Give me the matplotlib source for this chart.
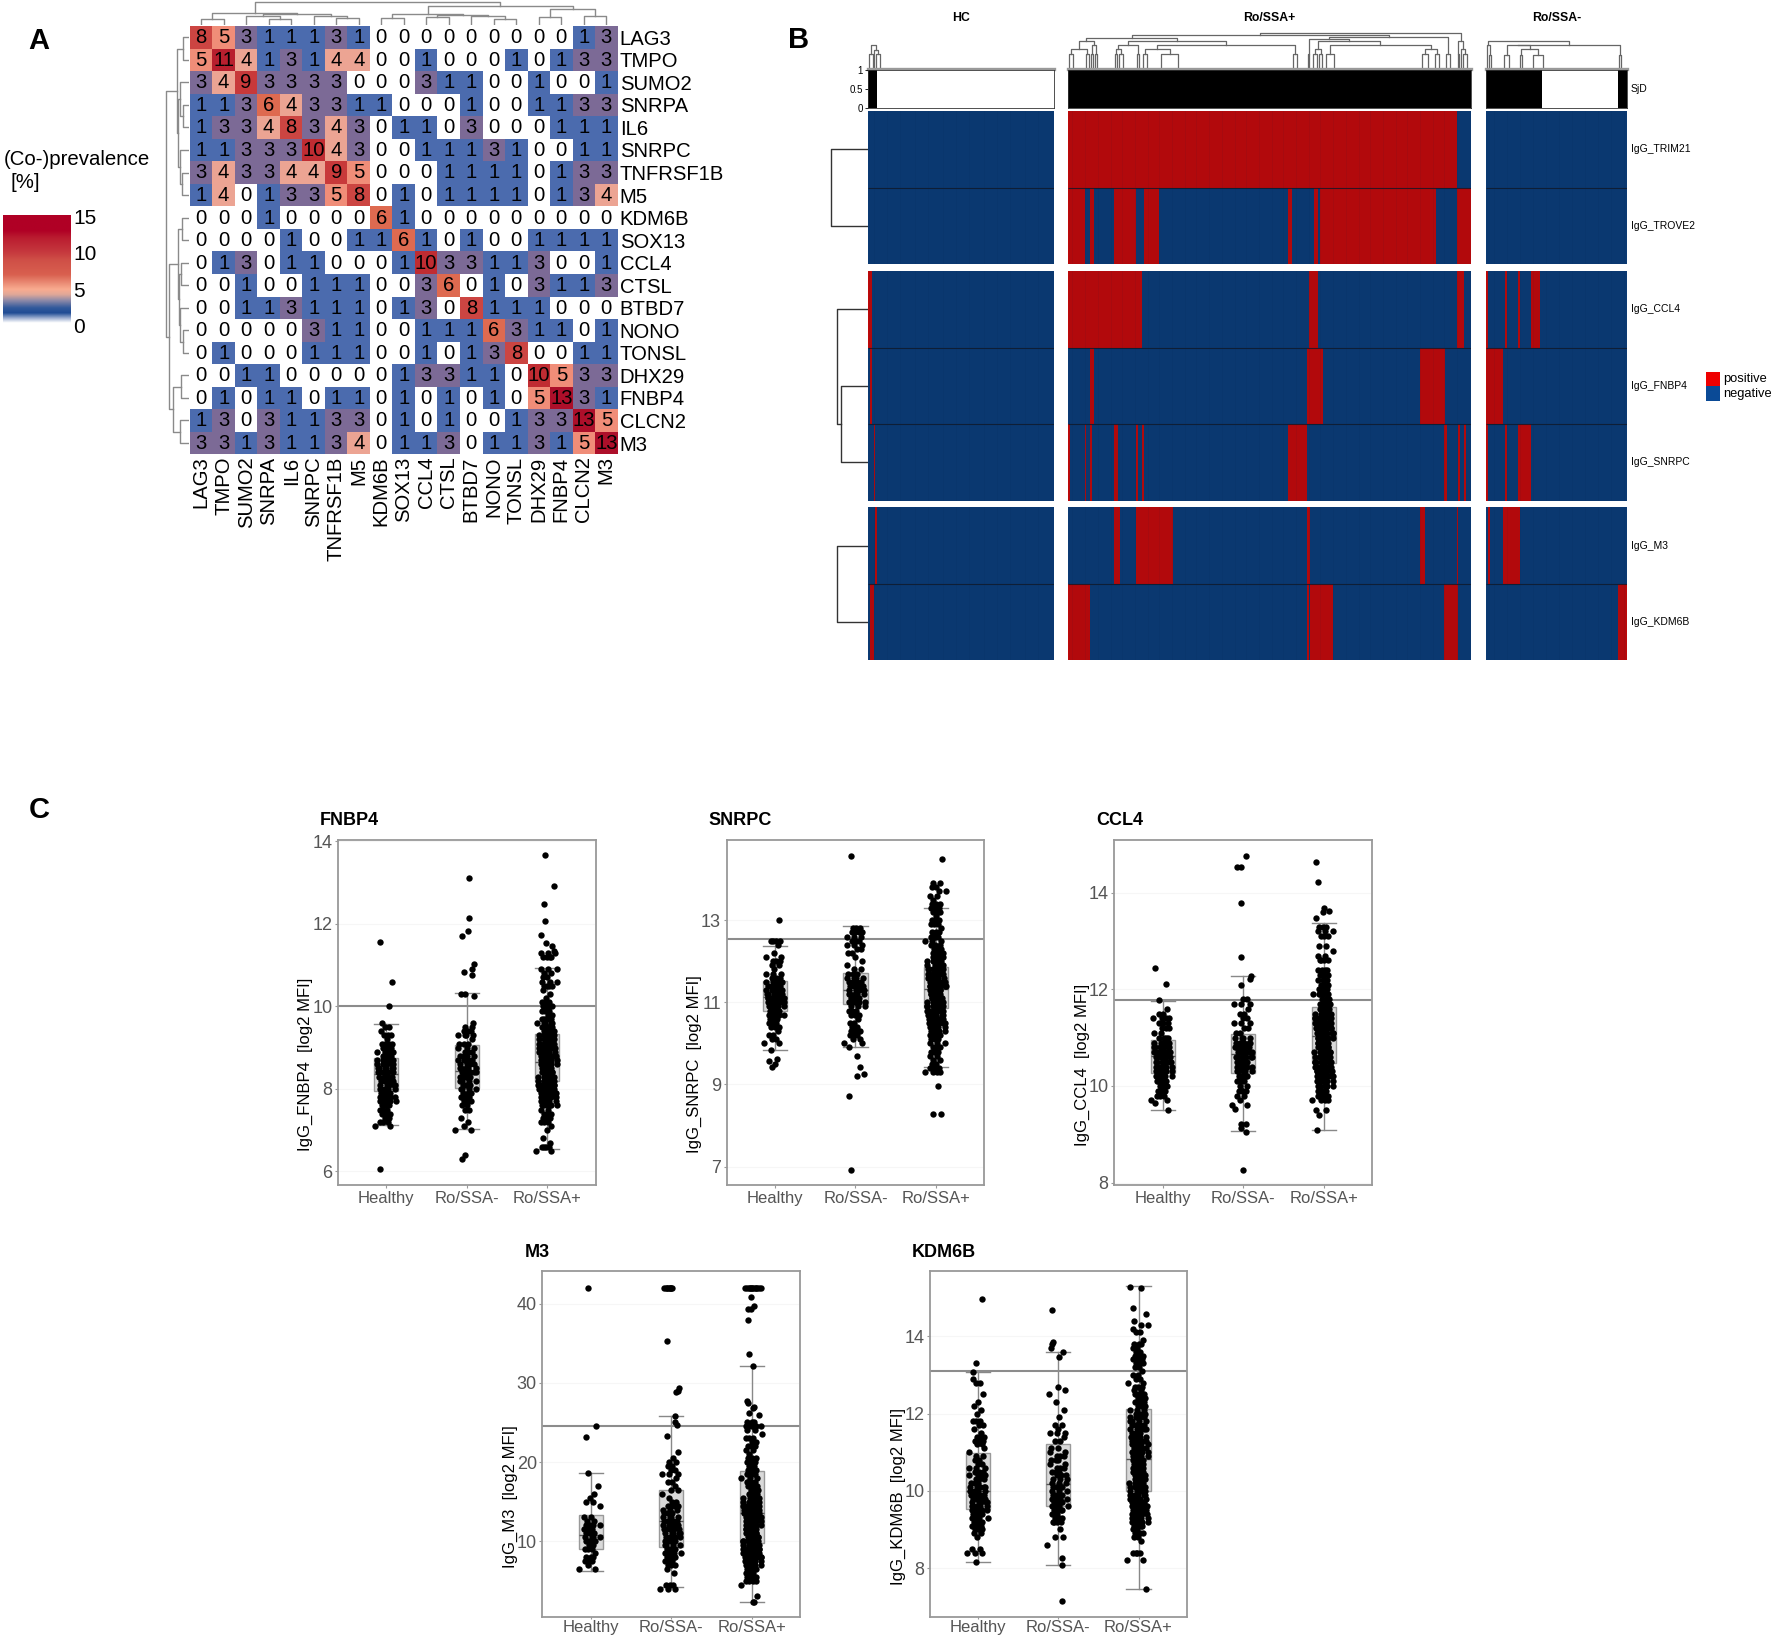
import numpy as np
import matplotlib
matplotlib.use('Agg')
import matplotlib.pyplot as plt
from matplotlib.colors import LinearSegmentedColormap, ListedColormap, Normalize
from matplotlib.patches import Rectangle

plt.rcParams['font.family'] = ['Liberation Sans', 'DejaVu Sans']

# ── Panel A data ────────────────────────────────────────────────
genes = ["LAG3", "TMPO", "SUMO2", "SNRPA", "IL6", "SNRPC", "TNFRSF1B", "M5", "KDM6B", "SOX13",
         "CCL4", "CTSL", "BTBD7", "NONO", "TONSL", "DHX29", "FNBP4", "CLCN2", "M3"]
coprev = [
    [8, 5, 3, 1, 1, 1, 3, 1, 0, 0, 0, 0, 0, 0, 0, 0, 0, 1, 3],
    [5, 11, 4, 1, 3, 1, 4, 4, 0, 0, 1, 0, 0, 0, 1, 0, 1, 3, 3],
    [3, 4, 9, 3, 3, 3, 3, 0, 0, 0, 3, 1, 1, 0, 0, 1, 0, 0, 1],
    [1, 1, 3, 6, 4, 3, 3, 1, 1, 0, 0, 0, 1, 0, 0, 1, 1, 3, 3],
    [1, 3, 3, 4, 8, 3, 4, 3, 0, 1, 1, 0, 3, 0, 0, 0, 1, 1, 1],
    [1, 1, 3, 3, 3, 10, 4, 3, 0, 0, 1, 1, 1, 3, 1, 0, 0, 1, 1],
    [3, 4, 3, 3, 4, 4, 9, 5, 0, 0, 0, 1, 1, 1, 1, 0, 1, 3, 3],
    [1, 4, 0, 1, 3, 3, 5, 8, 0, 1, 0, 1, 1, 1, 1, 0, 1, 3, 4],
    [0, 0, 0, 1, 0, 0, 0, 0, 6, 1, 0, 0, 0, 0, 0, 0, 0, 0, 0],
    [0, 0, 0, 0, 1, 0, 0, 1, 1, 6, 1, 0, 1, 0, 0, 1, 1, 1, 1],
    [0, 1, 3, 0, 1, 1, 0, 0, 0, 1, 10, 3, 3, 1, 1, 3, 0, 0, 1],
    [0, 0, 1, 0, 0, 1, 1, 1, 0, 0, 3, 6, 0, 1, 0, 3, 1, 1, 3],
    [0, 0, 1, 1, 3, 1, 1, 1, 0, 1, 3, 0, 8, 1, 1, 1, 0, 0, 0],
    [0, 0, 0, 0, 0, 3, 1, 1, 0, 0, 1, 1, 1, 6, 3, 1, 1, 0, 1],
    [0, 1, 0, 0, 0, 1, 1, 1, 0, 0, 1, 0, 1, 3, 8, 0, 0, 1, 1],
    [0, 0, 1, 1, 0, 0, 0, 0, 0, 1, 3, 3, 1, 1, 0, 10, 5, 3, 3],
    [0, 1, 0, 1, 1, 0, 1, 1, 0, 1, 0, 1, 0, 1, 0, 5, 13, 3, 1],
    [1, 3, 0, 3, 1, 1, 3, 3, 0, 1, 0, 1, 0, 0, 1, 3, 3, 13, 5],
    [3, 3, 1, 3, 1, 1, 3, 4, 0, 1, 1, 3, 0, 1, 1, 3, 1, 5, 13],
]
# trees: (height, left, right), an int is a leaf
tree_a = (67,
          (34, (17, 0, 1), (32, (25, 2, (18, 3, 4)), (27, 5, (20, 6, 7)))),
          (57, (33, (20, 8, 9), (30, (24, 10, 11), (25, 12, (17, 13, 14)))),
           (47, (24, 15, 16), (26, 17, 18))))
cbar_values = [0.45, 1.0, 1.8, 2.5, 3.5, 4.3, 5.0, 6.0, 7.0, 9.0, 10.0, 12.0, 13.0, 15.2]
cbar_colors = ["#ffffff", "#aab9d8", "#1f4b94", "#335a9c", "#8f8aa8", "#e0a898", "#f9ab90", "#e88670",
               "#d9604f", "#cf4f47", "#c63a3e", "#ba1c30", "#b00025", "#b00025"]
cell_values = [0, 0.5, 1, 3, 4, 5, 6, 8, 9, 10, 11, 13, 15]
cell_colors = ["#ffffff", "#ffffff", "#4a6aae", "#7c6a96", "#eda493", "#f08d78", "#de6a50", "#cc4542",
               "#c8393a", "#c02c32", "#b81f2e", "#ad0f2a", "#ad0f2a"]

# ── Panel B data: runs of positive columns (start, end) per group ───
group_names = ["HC", "Ro/SSA+", "Ro/SSA-"]
group_sizes = [100, 218, 76]
sjd_runs = [[(0, 5)], [(0, 218)], [(0, 30), (71, 76)]]
trim21_runs = [[], [(0, 210)], []]
trove2_runs = [[], [(0, 9), (12, 14), (25, 37), (41, 49), (119, 121), (133, 135), (136, 138), (138, 199), (210, 218)], []]
ccl4_runs = [[(0, 2)], [(0, 40), (130, 135), (210, 214)], [(0, 1), (10, 11), (17, 18), (24, 29)]]
fnbp4_runs = [[(1, 2)], [(12, 14), (129, 138), (190, 204)], [(0, 9)]]
snrpc_runs = [[(3, 4)], [(0, 1), (9, 10), (12, 13), (25, 27), (37, 38), (40, 41), (119, 129), (203, 205), (211, 212), (214, 215)],
              [(0, 1), (10, 11), (17, 24)]]
m3_runs = [[(4, 5)], [(25, 28), (37, 57), (129, 131), (190, 193), (210, 211)], [(1, 2), (9, 18)]]
kdm6b_runs = [[(1, 3)], [(0, 12), (129, 130), (131, 143), (203, 211)], [(71, 76)]]

tree_hc = (73, (45, 0, 2), (58, 3, (45, 4, 6)))
tree_plus = (110,
             (103,
              (94,
               (85, (60, (46, 0, 2), (46, 9, 11)), (73, (46, 12, 13), (46, 14, 15))),
               (85, (73, (60, (46, 25, 26), (46, 27, 29)), (46, 37, 38)),
                (73, (60, (46, 40, 42), (46, 50, 59)), (46, 121, 123)))),
              (96,
               (90, (46, 129, 130),
                (85, (60, (46, 132, 134), (46, 135, 137)),
                 (73, (46, 139, 143), (60, (46, 191, 194), (46, 198, 200))))),
               (46, 204, 206))),
             (85, (46, 210, 211), (60, 212, (46, 213, 215))))
tree_minus = (85, (73, 0, (43, 1, 2)),
              (73, (72, (43, 9, 12), (60, (43, 18, 19), (43, 25, 30))), (43, 71, 72)))
tree_rows1 = (33, 0, 1)
tree_rows2 = (27, 0, (23.5, 1, 2))
tree_rows3 = (27, 0, 1)

# ── Panel C data: level / count pairs for the dense part of each cloud ──
x_names = ["Healthy", "Ro/SSA-", "Ro/SSA+"]

fnbp4_h_y = [7.1, 7.2, 7.3, 7.4, 7.5, 7.6, 7.7, 7.8, 7.9, 8.0, 8.1, 8.2, 8.3, 8.4, 8.5, 8.6, 8.7, 8.8, 8.9, 9.0, 9.1, 9.2, 9.3, 9.4, 9.5, 9.6]
fnbp4_h_n = [2, 3, 2, 3, 3, 4, 7, 6, 6, 5, 5, 6, 5, 6, 6, 7, 7, 6, 4, 5, 4, 1, 3, 1, 2, 1]
fnbp4_m_y = [7.0, 7.1, 7.2, 7.3, 7.5, 7.6, 7.7, 7.8, 7.9, 8.0, 8.1, 8.2, 8.3, 8.4, 8.5, 8.6, 8.7, 8.8, 8.9, 9.0, 9.1, 9.2, 9.3, 9.4, 9.5]
fnbp4_m_n = [2, 1, 1, 1, 2, 2, 3, 5, 3, 4, 4, 4, 5, 7, 5, 4, 5, 4, 3, 3, 3, 1, 4, 3, 2]
fnbp4_p_y = [6.5, 6.6, 6.7, 6.8, 7.0, 7.1, 7.2, 7.3, 7.4, 7.5, 7.6, 7.7, 7.8, 7.9, 8.0, 8.1, 8.2, 8.3, 8.4, 8.5, 8.6, 8.7, 8.8, 8.9, 9.0, 9.1,
             9.2, 9.3, 9.4, 9.5, 9.6, 9.7, 9.8, 9.9, 10.0, 10.1, 10.2, 10.3, 10.4, 10.5, 10.6, 10.7, 10.8, 10.9, 11.2, 11.3]
fnbp4_p_n = [2, 4, 1, 1, 1, 1, 3, 3, 3, 2, 7, 5, 8, 10, 14, 12, 11, 12, 12, 10, 11, 10, 10, 9, 9, 9,
             9, 8, 7, 6, 5, 5, 2, 3, 5, 3, 1, 1, 1, 4, 3, 2, 2, 3, 4, 3]
fnbp4_out_g = [0, 0, 0, 0, 1, 1, 1, 1, 1, 1, 1, 1, 1, 1, 1, 1, 1, 1, 2, 2, 2, 2, 2, 2, 2, 2]
fnbp4_out_y = [11.56, 10.6, 10.02, 6.06, 13.12, 12.14, 11.82, 11.7, 11.02, 10.9, 10.83, 10.75, 10.3, 10.3, 10.25, 6.3, 6.41, 9.6,
               13.66, 12.92, 12.47, 12.07, 11.74, 11.54, 11.46, 11.34]
fnbp4_out_dx = [-0.08, 0.07, 0.03, -0.08, 0.03, 0.03, 0.02, -0.06, 0.09, 0.07, -0.03, 0.07, -0.07, -0.02, 0.09, -0.06, -0.02, 0.08,
                -0.03, 0.09, -0.04, -0.03, -0.08, -0.02, 0.06, 0.08]
fnbp4_box = [[7.12, 7.95, 8.36, 8.74, 9.58], [7.02, 8.02, 8.43, 9.07, 10.32], [6.55, 8.19, 8.65, 9.32, 10.94]]
fnbp4_cut = 10.0

snrpc_h_y = [10.0, 10.1, 10.2, 10.3, 10.4, 10.5, 10.6, 10.7, 10.8, 10.9, 11.0, 11.1, 11.2, 11.3, 11.4, 11.5, 11.6, 11.7, 11.8, 11.9, 12.0, 12.1, 12.2, 12.4, 12.5]
snrpc_h_n = [2, 2, 2, 1, 3, 3, 4, 5, 6, 7, 9, 10, 7, 6, 5, 5, 3, 3, 1, 2, 3, 2, 1, 1, 4]
snrpc_m_y = [10.0, 10.1, 10.2, 10.3, 10.4, 10.5, 10.6, 10.7, 10.8, 10.9, 11.0, 11.1, 11.2, 11.3, 11.4, 11.5, 11.6, 11.7, 11.8, 11.9, 12.0, 12.1, 12.2, 12.3, 12.4, 12.5, 12.6, 12.7, 12.8]
snrpc_m_n = [1, 2, 3, 4, 2, 2, 1, 3, 3, 3, 6, 5, 6, 5, 5, 5, 4, 3, 2, 1, 1, 1, 2, 2, 3, 4, 3, 4, 3]
snrpc_p_y = [9.3, 9.4, 9.5, 9.6, 9.7, 9.8, 9.9, 10.0, 10.1, 10.2, 10.3, 10.4, 10.5, 10.6, 10.7, 10.8, 10.9, 11.0, 11.1, 11.2, 11.3, 11.4, 11.5, 11.6,
             11.7, 11.8, 11.9, 12.0, 12.1, 12.2, 12.3, 12.4, 12.5, 12.6, 12.7, 12.8, 12.9, 13.0, 13.1, 13.2, 13.3, 13.4, 13.5, 13.6, 13.7, 13.8, 13.9]
snrpc_p_n = [4, 3, 2, 2, 2, 3, 3, 3, 3, 4, 5, 6, 8, 7, 7, 9, 11, 11, 12, 13, 12, 12, 11, 10,
             9, 8, 6, 6, 6, 6, 4, 3, 3, 4, 3, 1, 3, 3, 1, 3, 3, 3, 1, 2, 2, 2, 2]
snrpc_out_g = [0, 0, 0, 0, 0, 0, 1, 1, 1, 1, 1, 1, 1, 1, 1, 2, 2, 2, 2]
snrpc_out_y = [13.0, 9.84, 9.62, 9.58, 9.42, 9.5, 14.57, 6.92, 8.72, 9.7, 9.43, 9.2, 9.25, 9.92, 10.02, 14.5, 8.27, 8.27, 8.96]
snrpc_out_dx = [0.05, -0.05, 0.02, -0.07, -0.04, 0.0, -0.06, -0.06, -0.08, 0.02, 0.05, 0.02, 0.1, -0.08, 0.08, 0.07, -0.04, 0.06, 0.03]
snrpc_box = [[9.84, 10.8, 11.13, 11.51, 12.36], [9.92, 10.95, 11.29, 11.71, 12.86], [9.43, 10.87, 11.33, 11.85, 13.3]]
snrpc_cut = 12.54

ccl4_h_y = [9.7, 9.8, 9.9, 10.0, 10.1, 10.2, 10.3, 10.4, 10.5, 10.6, 10.7, 10.8, 10.9, 11.0, 11.1, 11.2, 11.3, 11.4, 11.5, 11.6]
ccl4_h_n = [2, 3, 3, 4, 6, 7, 7, 7, 7, 7, 9, 8, 6, 4, 2, 3, 4, 4, 2, 1]
ccl4_m_y = [9.6, 9.7, 9.8, 9.9, 10.0, 10.1, 10.2, 10.3, 10.4, 10.5, 10.6, 10.7, 10.8, 10.9, 11.0, 11.1, 11.2, 11.3, 11.4, 11.5, 11.6, 11.7, 11.8]
ccl4_m_n = [2, 1, 2, 4, 2, 3, 5, 6, 5, 7, 8, 7, 6, 6, 4, 2, 2, 3, 2, 2, 1, 3, 2]
ccl4_p_y = [9.7, 9.8, 9.9, 10.0, 10.1, 10.2, 10.3, 10.4, 10.5, 10.6, 10.7, 10.8, 10.9, 11.0, 11.1, 11.2, 11.3, 11.4, 11.5, 11.6, 11.7, 11.8,
            11.9, 12.0, 12.1, 12.2, 12.3, 12.4, 12.6, 12.7, 12.8, 12.9, 13.1, 13.2, 13.3]
ccl4_p_n = [4, 6, 7, 7, 9, 10, 11, 11, 11, 12, 13, 13, 13, 12, 12, 12, 11, 10, 9, 7, 5, 3,
            6, 6, 3, 4, 4, 4, 4, 2, 1, 2, 3, 3, 3]
ccl4_out_g = [0, 0, 0, 0, 0, 1, 1, 1, 1, 1, 1, 1, 1, 1, 1, 1, 1, 1, 1, 2, 2, 2, 2, 2, 2, 2, 2, 2, 2]
ccl4_out_y = [12.44, 12.12, 11.78, 9.51, 9.64, 14.77, 14.53, 14.53, 13.79, 12.67, 12.28, 12.22, 12.1, 8.27, 9.22, 9.22, 9.14, 9.05, 9.53,
              14.64, 14.23, 13.68, 13.62, 13.6, 13.47, 9.08, 9.51, 9.5, 9.39]
ccl4_out_dx = [-0.1, 0.04, -0.04, 0.07, -0.09, 0.04, -0.07, -0.03, -0.03, -0.03, 0.1, 0.08, -0.03, 0.0, -0.03, 0.04, -0.03, 0.04, -0.1,
               -0.09, -0.07, 0.0, 0.07, -0.01, -0.09, -0.08, 0.03, -0.09, -0.06]
ccl4_box = [[9.51, 10.26, 10.62, 10.95, 11.75], [9.06, 10.27, 10.66, 11.08, 12.27], [9.08, 10.47, 11.03, 11.64, 13.37]]
ccl4_cut = 11.78

m3_h_y = [6.5, 7.0, 7.5, 8.0, 8.5, 9.0, 9.5, 10.0, 10.5, 11.0, 11.5, 12.0, 12.5, 13.0, 14.5, 15.0, 15.5, 16.0, 17.0]
m3_h_n = [2, 1, 3, 3, 1, 3, 2, 4, 4, 3, 3, 4, 2, 2, 1, 2, 1, 1, 1]
m3_m_y = [4.0, 4.5, 6.0, 6.5, 7.0, 7.5, 8.0, 8.5, 9.0, 9.5, 10.0, 10.5, 11.0, 11.5, 12.0, 12.5, 13.0, 13.5, 14.0, 14.5, 15.0, 15.5, 16.0, 16.5, 17.0, 17.5, 18.0, 18.5, 19.0, 19.5, 20.0, 20.5]
m3_m_n = [3, 3, 1, 1, 3, 3, 4, 5, 5, 4, 5, 5, 5, 6, 6, 5, 4, 3, 3, 4, 2, 1, 1, 2, 1, 2, 1, 3, 2, 2, 2, 1]
m3_p_y = [4.5, 5.0, 5.5, 6.0, 6.5, 7.0, 7.5, 8.0, 8.5, 9.0, 9.5, 10.0, 10.5, 11.0, 11.5, 12.0, 12.5, 13.0, 13.5, 14.0, 14.5, 15.0, 15.5, 16.0,
          16.5, 17.0, 17.5, 18.0, 18.5, 19.0, 19.5, 20.0, 20.5, 21.0, 21.5, 22.0, 22.5, 23.0, 23.5, 24.0, 24.5, 25.0]
m3_p_n = [1, 4, 5, 3, 6, 9, 9, 10, 11, 11, 10, 11, 11, 11, 11, 11, 10, 10, 9, 9, 8, 8, 6, 5,
          4, 5, 4, 3, 4, 3, 2, 3, 3, 1, 2, 3, 2, 3, 1, 2, 6, 3]
m3_out_g = [0, 0, 0, 0,
            1, 1, 1, 1, 1, 1, 1, 1, 1, 1, 1, 1, 1, 1, 1, 1, 1,
            2, 2, 2, 2, 2, 2, 2, 2, 2, 2, 2, 2, 2, 2, 2, 2, 2, 2, 2, 2, 2, 2, 2, 2, 2, 2, 2, 2]
m3_out_y = [42, 24.6, 23.2, 18.6,
            42, 42, 42, 42, 42, 42, 42, 42, 35.3, 29.3, 29.0, 28.8, 25.8, 25.0, 24.7, 23.3, 21.3,
            42, 42, 42, 42, 42, 42, 42, 42, 42, 42, 42, 42, 40.9, 39.7, 39.4, 39.3, 37.9, 33.6, 32.2, 27.7, 27.5, 27.0, 26.8, 25.9, 26.2, 3.1, 2.3, 2.3]
m3_out_dx = [-0.03, 0.06, -0.06, -0.03,
             -0.09, -0.07, -0.05, -0.04, -0.02, -0.01, 0.0, 0.01, -0.05, 0.09, 0.08, 0.06, 0.04, 0.05, 0.07, -0.05, 0.08,
             -0.08, -0.06, -0.04, -0.02, -0.01, 0.0, 0.02, 0.04, 0.05, 0.07, 0.09, 0.11, -0.01, 0.03, -0.05, -0.01, -0.05, -0.03, 0.02, -0.06, -0.05, 0.03, 0.02, 0.09, -0.03, 0.07, 0.03, 0.02]
m3_box = [[6.2, 9.0, 10.8, 13.3, 18.6], [4.2, 9.24, 12.5, 16.5, 25.8], [2.3, 9.8, 13.5, 18.85, 32.2]]
m3_cut = 24.6

kdm6b_h_y = [8.4, 8.5, 8.8, 8.9, 9.0, 9.1, 9.2, 9.3, 9.4, 9.5, 9.6, 9.7, 9.8, 9.9, 10.0, 10.1, 10.2, 10.3, 10.4, 10.5, 10.6, 10.7, 10.8, 10.9,
             11.0, 11.1, 11.2, 11.3, 11.4, 11.5, 11.6, 11.7, 11.8, 12.0, 12.1, 12.2, 12.3, 12.5, 12.8, 12.9]
kdm6b_h_n = [3, 2, 1, 2, 3, 4, 3, 4, 6, 7, 6, 5, 5, 6, 5, 5, 3, 3, 4, 3, 3, 2, 2, 2,
             1, 1, 2, 4, 3, 1, 1, 2, 3, 1, 1, 1, 1, 1, 2, 1]
kdm6b_m_y = [8.6, 8.8, 9.0, 9.2, 9.3, 9.4, 9.5, 9.6, 9.7, 9.8, 9.9, 10.0, 10.1, 10.2, 10.3, 10.4, 10.5, 10.6, 10.7, 10.8, 10.9, 11.0, 11.1,
             11.3, 11.4, 11.5, 11.6, 11.7, 11.9, 12.1, 12.3, 12.5, 12.6, 12.7]
kdm6b_m_n = [1, 2, 1, 4, 4, 2, 4, 4, 4, 5, 4, 3, 4, 3, 3, 3, 3, 3, 2, 3, 3, 2, 2,
             2, 1, 3, 1, 2, 1, 1, 1, 1, 1, 1]
kdm6b_p_y = [8.2, 8.4, 8.7, 8.8, 8.9, 9.0, 9.1, 9.2, 9.3, 9.4, 9.5, 9.6, 9.7, 9.8, 9.9, 10.0, 10.1, 10.2, 10.3, 10.4, 10.5, 10.6, 10.7, 10.8, 10.9,
             11.0, 11.1, 11.2, 11.3, 11.4, 11.5, 11.6, 11.7, 11.8, 11.9, 12.0, 12.1, 12.2, 12.3, 12.4, 12.5, 12.6, 12.7, 12.8, 12.9, 13.0,
             13.1, 13.2, 13.3, 13.4, 13.5, 13.6, 13.7, 13.8, 13.9, 14.1, 14.2, 14.3, 14.4]
kdm6b_p_n = [2, 4, 1, 2, 3, 2, 5, 7, 6, 6, 6, 7, 6, 6, 7, 7, 7, 6, 6, 7, 6, 7, 6, 7, 6,
             6, 5, 5, 5, 5, 4, 5, 5, 4, 5, 5, 3, 3, 4, 4, 4, 2, 3, 2, 2, 2,
             1, 2, 3, 3, 3, 2, 2, 3, 1, 2, 1, 2, 1]
kdm6b_out_g = [0, 0, 0, 0, 1, 1, 1, 1, 1, 1, 1, 1, 1, 2, 2, 2, 2, 2]
kdm6b_out_y = [14.97, 13.3, 13.07, 8.17, 14.68, 13.85, 13.79, 13.7, 13.6, 13.47, 7.14, 8.09, 8.26, 15.28, 15.24, 14.72, 14.58, 7.46]
kdm6b_out_dx = [0.05, -0.03, -0.06, -0.03, -0.08, -0.07, -0.08, -0.09, 0.06, 0.01, 0.05, 0.04, 0.05, -0.1, 0.03, -0.07, 0.09, 0.09]
kdm6b_box = [[8.17, 9.54, 10.0, 10.98, 13.07], [8.09, 9.62, 10.18, 11.22, 13.59], [7.46, 9.99, 10.83, 12.12, 15.29]]
kdm6b_cut = 13.1

W, H = 1772, 1638
S = W / 1568.0  # layout measured on a 1568 wide view
fig = plt.figure(figsize=(W / 100, H / 100), dpi=100)


def px_ax(left, top, right, bottom):
    return fig.add_axes([left * S / W, 1 - bottom * S / H, (right - left) * S / W, (bottom - top) * S / H])


def px_text(x, y, s, **kw):
    kw.setdefault('va', 'center')
    fig.text(x * S / W, 1 - y * S / H, s, **kw)


def draw_tree(ax, node, side, color='#777777', lw=1.0):
    """Draw a nested (height, a, b) tree, return centre and height of node."""
    if not isinstance(node, tuple):
        return node + 0.5, 0
    h, a, b = node
    pa, ha = draw_tree(ax, a, side, color, lw)
    pb, hb = draw_tree(ax, b, side, color, lw)
    px, py = [pa, pa, pb, pb], [ha, h, h, hb]
    if side == 'left':
        px, py = py, px
    ax.plot(px, py, color=color, lw=lw, solid_capstyle='projecting')
    return (pa + pb) / 2, h


for letter, lx, ly in [("A", 34, 36), ("B", 707, 35), ("C", 35, 717)]:
    px_text(lx, ly, letter, fontsize=21, fontweight='bold', ha='center')

# ── Panel A ─────────────────────────────────────────────────────
cell_cmap = LinearSegmentedColormap.from_list(
    'cells', [(v / 15, c) for v, c in zip(cell_values, cell_colors)], N=512)
mat = np.array(coprev)
ax = px_ax(168, 23, 546.5, 402)
ax.pcolormesh(mat, cmap=cell_cmap, norm=Normalize(0, 15))
ax.invert_yaxis()
for i in range(mat.shape[0]):
    for j in range(mat.shape[1]):
        ax.text(j + 0.5, i + 0.52, str(mat[i, j]), ha='center', va='center', fontsize=14.6, color='black')
ax.set_xticks(np.arange(len(genes)) + 0.5)
ax.set_xticklabels(genes, rotation=90, fontsize=14.6)
ax.set_yticks(np.arange(len(genes)) + 0.5)
ax.set_yticklabels(genes, fontsize=14.6)
ax.yaxis.tick_right()
ax.tick_params(length=0, pad=1.5)
for sp in ax.spines.values():
    sp.set_visible(False)

ax = px_ax(168, 1, 546.5, 22)
draw_tree(ax, tree_a, 'top', color='#8a8a8a', lw=1.0)
ax.set_xlim(0, len(genes))
ax.set_ylim(0, 70)
ax.axis('off')
ax = px_ax(146, 23, 167, 402)
draw_tree(ax, tree_a, 'left', color='#8a8a8a', lw=1.0)
ax.set_xlim(70, 0)
ax.set_ylim(len(genes), 0)
ax.axis('off')

px_text(3, 141.5, "(Co-)prevalence", fontsize=14.7)
px_text(9, 161.5, "[%]", fontsize=14.7)
bar_cmap = LinearSegmentedColormap.from_list(
    'bar', [((v - 0.45) / 14.75, c) for v, c in zip(cbar_values, cbar_colors)], N=512)
ax = px_ax(3, 190, 63, 286)
ax.imshow(np.linspace(15.2, 0.45, 300)[:, None], cmap=bar_cmap, norm=Normalize(0.45, 15.2), aspect='auto',
          extent=[0, 1, 0.45, 15.2])
ax.set_xticks([])
ax.set_yticks([])
for sp in ax.spines.values():
    sp.set_visible(False)
for v in [0, 5, 10, 15]:
    px_text(65, 289.5 - v * 6.4, str(v), fontsize=15)

# ── Panel B ─────────────────────────────────────────────────────
blue, red = '#0b3a73', '#be0808'
bin_cmap = ListedColormap([blue, red])
group_x = [(768, 933), (945, 1302), (1315, 1440)]
group_trees = [tree_hc, tree_plus, tree_minus]
blocks = [
    (98, 234, ["IgG_TRIM21", "IgG_TROVE2"], [trim21_runs, trove2_runs], tree_rows1),
    (240, 443, ["IgG_CCL4", "IgG_FNBP4", "IgG_SNRPC"], [ccl4_runs, fnbp4_runs, snrpc_runs], tree_rows2),
    (449, 584, ["IgG_M3", "IgG_KDM6B"], [m3_runs, kdm6b_runs], tree_rows3),
]


def runs_to_row(runs, n):
    row = np.zeros(n)
    for a, b in runs:
        row[a:b] = 1
    return row


for g, ((x0, x1), name, n) in enumerate(zip(group_x, group_names, group_sizes)):
    px_text((x0 + x1) / 2, 16, name, fontsize=8.8, fontweight='bold', ha='center')

    ax = px_ax(x0, 26.5, x1, 61.3)
    draw_tree(ax, group_trees[g], 'top', color='#666666', lw=0.9)
    ax.plot([0, n], [0, 0], color='#999999', lw=2.4, clip_on=False)
    ax.set_xlim(0, n)
    ax.set_ylim(0, 118)
    ax.axis('off')

    ax = px_ax(x0, 62, x1, 96)
    sjd = runs_to_row(sjd_runs[g], n)
    ax.bar(np.arange(n) + 0.5, sjd, width=1.0, color='black', linewidth=0)
    ax.set_xlim(0, n)
    ax.set_ylim(0, 1)
    ax.set_xticks([])
    for sp in ax.spines.values():
        sp.set_linewidth(0.6)
        sp.set_color('#333333')
    if g == 0:
        ax.set_yticks([0, 0.5, 1])
        ax.set_yticklabels(['0', '0.5', '1'], fontsize=7)
        ax.tick_params(axis='y', length=2, width=0.6, pad=1.5)
    else:
        ax.set_yticks([])
    if g == 2:
        px_text(x1 + 3, 79, "SjD", fontsize=7.5)

    for top, bottom, names, rows, rtree in blocks:
        ax = px_ax(x0, top, x1, bottom)
        m = np.array([runs_to_row(r[g], n) for r in rows])
        ax.pcolormesh(m, cmap=bin_cmap, vmin=0, vmax=1)
        # faint cell borders
        ax.vlines(np.arange(1, n), 0, len(names), color='#06244a', lw=0.3, alpha=0.3)
        ax.hlines(np.arange(1, len(names)), 0, n, color='#101828', lw=0.8, alpha=0.8)
        ax.set_xlim(0, n)
        ax.set_ylim(len(names), 0)
        ax.set_xticks([])
        ax.set_yticks([])
        for sp in ax.spines.values():
            sp.set_visible(False)
        if g == 2:
            rh = (bottom - top) / len(names)
            for k, nm in enumerate(names):
                px_text(x1 + 3, top + (k + 0.5) * rh, nm, fontsize=7.5)

for top, bottom, names, rows, rtree in blocks:
    ax = px_ax(730, top, 768, bottom)
    draw_tree(ax, rtree, 'left', color='#333333', lw=1.0)
    ax.set_xlim(38, 0)
    ax.set_ylim(len(names), 0)
    ax.axis('off')

for y0, col, txt in [(329, '#ee0000', "positive"), (342, '#0a4a96', "negative")]:
    fig.add_artist(Rectangle((1510 * S / W, 1 - (y0 + 13) * S / H), 12 * S / W, 13 * S / H,
                             transform=fig.transFigure, facecolor=col, edgecolor='none'))
    px_text(1525, y0 + 6.5, txt, fontsize=9.3)

# ── Panel C ─────────────────────────────────────────────────────
panels = [
    ("FNBP4", (299, 743, 527, 1049), (5.66, 14.04), [6, 8, 10, 12, 14],
     [(fnbp4_h_y, fnbp4_h_n), (fnbp4_m_y, fnbp4_m_n), (fnbp4_p_y, fnbp4_p_n)],
     fnbp4_out_g, fnbp4_out_y, fnbp4_out_dx, fnbp4_box, fnbp4_cut),
    ("SNRPC", (643, 743, 871, 1049), (6.54, 14.96), [7, 9, 11, 13],
     [(snrpc_h_y, snrpc_h_n), (snrpc_m_y, snrpc_m_n), (snrpc_p_y, snrpc_p_n)],
     snrpc_out_g, snrpc_out_y, snrpc_out_dx, snrpc_box, snrpc_cut),
    ("CCL4", (986, 743, 1214, 1049), (7.94, 15.1), [8, 10, 12, 14],
     [(ccl4_h_y, ccl4_h_n), (ccl4_m_y, ccl4_m_n), (ccl4_p_y, ccl4_p_n)],
     ccl4_out_g, ccl4_out_y, ccl4_out_dx, ccl4_box, ccl4_cut),
    ("M3", (480, 1125, 708, 1431), (0.39, 44.1), [10, 20, 30, 40],
     [(m3_h_y, m3_h_n), (m3_m_y, m3_m_n), (m3_p_y, m3_p_n)],
     m3_out_g, m3_out_y, m3_out_dx, m3_box, m3_cut),
    ("KDM6B", (823, 1125, 1050, 1431), (6.73, 15.68), [8, 10, 12, 14],
     [(kdm6b_h_y, kdm6b_h_n), (kdm6b_m_y, kdm6b_m_n), (kdm6b_p_y, kdm6b_p_n)],
     kdm6b_out_g, kdm6b_out_y, kdm6b_out_dx, kdm6b_box, kdm6b_cut),
]

for name, (l, t, r, b), ylim, yticks, clouds, out_g, out_y, out_dx, box, cut in panels:
    ax = px_ax(l, t, r, b)
    stats = [dict(whislo=s[0], q1=s[1], med=s[2], q3=s[3], whishi=s[4], fliers=[]) for s in box]
    ax.bxp(stats, positions=[1, 2, 3], widths=0.3, capwidths=0.3, patch_artist=True, showfliers=False,
           boxprops=dict(facecolor='#d9d9d9', edgecolor='#999999', linewidth=1),
           medianprops=dict(color='#555555', linewidth=1),
           whiskerprops=dict(color='#888888', linewidth=1), capprops=dict(color='#888888', linewidth=1))
    for g, (ys, ns) in enumerate(clouds):
        vals = np.repeat(ys, ns)
        # same spread pattern on every run, denser near the middle like the jitter in the picture
        idx = np.arange(len(vals))
        dx = ((idx * 0.6180339887) % 1 + (idx * 0.7548776662) % 1 - 1) * 0.14
        ax.scatter(g + 1 + dx, vals, s=21, color='black', linewidths=0, zorder=3)
    ax.scatter(np.array(out_g) + 1 + np.array(out_dx), out_y, s=21, color='black', linewidths=0, zorder=3)
    ax.axhline(cut, color='#8c8c8c', linewidth=1.5, zorder=2)
    ax.set_xlim(0.4, 3.6)
    ax.set_ylim(*ylim)
    ax.set_xticks([1, 2, 3])
    ax.set_xticklabels(x_names, fontsize=12, color='#555555')
    ax.set_yticks(yticks)
    ax.set_yticklabels([str(v) for v in yticks], fontsize=13, color='#555555')
    ax.grid(axis='y', color='#f6f6f6', linewidth=0.8)
    ax.set_axisbelow(True)
    ax.tick_params(length=2, color='#999999', width=0.8, pad=2)
    if t > 1000:
        ax.tick_params(axis='x', length=1.5, pad=0.5)
    ax.set_ylabel(f"IgG_{name}  [log2 MFI]", fontsize=12)
    ax.yaxis.set_label_coords(-0.095, 0.35)
    for sp in ax.spines.values():
        sp.set_color('#999999')
        sp.set_linewidth(1.3)
    px_text(l - 16, t - 17, name, fontsize=13, fontweight='bold')

plt.savefig("out.png", dpi=100)
plt.close()
